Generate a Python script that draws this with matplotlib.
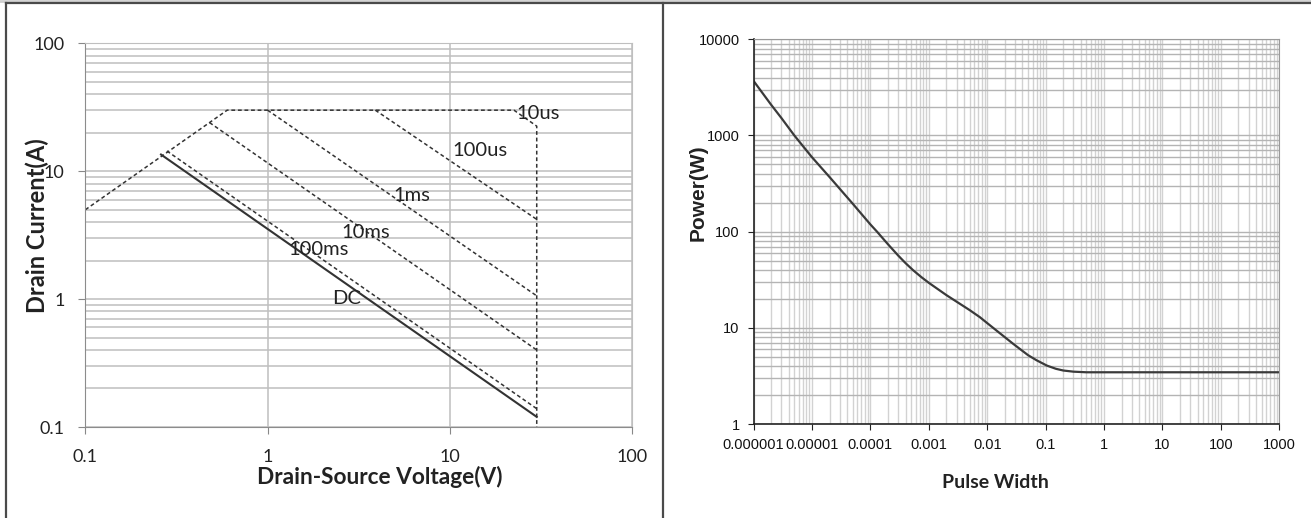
import matplotlib
matplotlib.use("Agg")
import matplotlib.pyplot as plt
from matplotlib.lines import Line2D
from matplotlib.ticker import FixedLocator, LogLocator, NullFormatter

# --- safe operating area (left) ---
soa_ticks = [0.1, 1, 10, 100]
soa_ticklabels = ["0.1", "1", "10", "100"]

# limit envelope, drawn as the 10us curve
limit_v = [0.1, 0.6, 22.5, 30, 30]
limit_i = [5.0, 30, 30, 22.5, 0.1]

us100_v = [3.9, 30]
us100_i = [30, 4.2]
ms1_v = [1.0, 30]
ms1_i = [30, 1.06]
ms10_v = [0.48, 30]
ms10_i = [24, 0.40]
ms100_v = [0.28, 30]
ms100_i = [14.4, 0.139]
dc_v = [0.26, 30]
dc_i = [13.5, 0.12]

curve_names = ["10us", "100us", "1ms", "10ms", "100ms", "DC"]
name_v = [30.4, 14.7, 6.2, 3.47, 1.9, 2.72]
name_i = [28.5, 14.4, 6.5, 3.33, 2.45, 1.02]

# --- peak power vs pulse width (right) ---
pulse_w = [1e-6, 2e-6, 3e-6, 5e-6, 1e-5, 2e-5, 5e-5, 1e-4, 1.3e-4, 2e-4,
           3e-4, 4e-4, 5.4e-4, 7.5e-4, 1e-3, 2e-3, 5e-3, 7.5e-3, 1e-2, 2e-2,
           2.8e-2, 5e-2, 7e-2, 0.105, 0.15, 0.2, 0.3, 0.5, 1, 10, 100, 1000]
power_w = [3700, 2090, 1520, 1000, 595, 370, 195, 119, 100, 74,
           56.4, 47.1, 39.7, 33.6, 29.4, 21.9, 15.3, 12.9, 11.2, 8.0,
           6.8, 5.2, 4.6, 4.05, 3.75, 3.6, 3.5, 3.45, 3.45, 3.45, 3.45, 3.45]
pw_ticks = [1e-6, 1e-5, 1e-4, 1e-3, 1e-2, 0.1, 1, 10, 100, 1000]
pw_ticklabels = ["0.000001", "0.00001", "0.0001", "0.001", "0.01",
                 "0.1", "1", "10", "100", "1000"]
p_ticks = [1, 10, 100, 1000, 10000]
p_ticklabels = ["1", "10", "100", "1000", "10000"]

W, H = 1311, 518
fig = plt.figure(figsize=(W / 100, H / 100), dpi=100)
fig.patch.set_facecolor("white")

ink = "#333333"
grid_c = "#bfbfbf"
sans = ["Lato", "DejaVu Sans"]

# ---------- left panel ----------
ax = fig.add_axes([85.4 / W, 1 - 427 / H, (632 - 85.4) / W, (427 - 43.3) / H])
ax.set_xscale("log")
ax.set_yscale("log")
ax.set_xlim(0.1, 100)
ax.set_ylim(0.1, 100)

dash = (0, (2.5, 1.8))
ax.plot(limit_v, limit_i, color=ink, lw=1.1, linestyle=dash)
for v, i in [(us100_v, us100_i), (ms1_v, ms1_i), (ms10_v, ms10_i), (ms100_v, ms100_i)]:
    ax.plot(v, i, color=ink, lw=1.1, linestyle=dash)
ax.plot(dc_v, dc_i, color=ink, lw=1.5)

for name, x, y in zip(curve_names, name_v, name_i):
    ax.text(x, y, name, ha="center", va="center", fontsize=14.5,
            family=sans, color="#222222")

ax.xaxis.set_major_locator(FixedLocator(soa_ticks))
ax.set_xticklabels(soa_ticklabels)
ax.yaxis.set_major_locator(FixedLocator(soa_ticks))
ax.set_yticklabels(soa_ticklabels)
ax.yaxis.set_minor_locator(LogLocator(base=10, subs=range(2, 10)))
ax.xaxis.set_minor_locator(LogLocator(base=10, subs=range(2, 10)))
ax.xaxis.set_minor_formatter(NullFormatter())
ax.yaxis.set_minor_formatter(NullFormatter())
ax.tick_params(which="minor", length=0)
ax.tick_params(which="major", direction="out", length=5, color="#888888",
               labelsize=13, labelcolor="#222222")
ax.tick_params(axis="y", pad=10)
ax.tick_params(axis="x", pad=11)
for lab in ax.get_xticklabels() + ax.get_yticklabels():
    lab.set_family(sans)
ax.grid(which="major", color=grid_c, lw=1.1)
ax.grid(which="minor", axis="y", color=grid_c, lw=1.1)
ax.set_axisbelow(True)
for s in ["left", "bottom"]:
    ax.spines[s].set_color("#8c8c8c")
for s in ["top", "right"]:
    ax.spines[s].set_color(grid_c)

ax.set_xlabel("Drain-Source Voltage(V)", fontsize=16.3, fontweight="bold",
              family=sans, color="#222222", va="center")
ax.xaxis.set_label_coords(0.539, -0.130)
ax.set_ylabel("Drain Current(A)", fontsize=17, fontweight="bold",
              family=sans, color="#222222", va="center")
ax.yaxis.set_label_coords(-0.088, 0.526)

# ---------- right panel ----------
bx = fig.add_axes([753.5 / W, 1 - 424 / H, (1279.3 - 753.5) / W, (424 - 39.3) / H])
bx.set_xscale("log")
bx.set_yscale("log")
bx.set_xlim(1e-6, 1000)
bx.set_ylim(1, 10000)
bx.plot(pulse_w, power_w, color="#3a3a3a", lw=1.6)

arial = ["Liberation Sans", "DejaVu Sans"]
bx.xaxis.set_major_locator(FixedLocator(pw_ticks))
bx.set_xticklabels(pw_ticklabels)
bx.yaxis.set_major_locator(FixedLocator(p_ticks))
bx.set_yticklabels(p_ticklabels)
bx.xaxis.set_minor_locator(LogLocator(base=10, subs=range(2, 10), numticks=20))
bx.yaxis.set_minor_locator(LogLocator(base=10, subs=range(2, 10), numticks=20))
bx.xaxis.set_minor_formatter(NullFormatter())
bx.yaxis.set_minor_formatter(NullFormatter())
bx.tick_params(which="minor", length=0)
bx.tick_params(which="major", direction="out", length=4, color="#222222",
               labelsize=10.5, labelcolor="#111111", pad=6)
for lab in bx.get_xticklabels() + bx.get_yticklabels():
    lab.set_family(arial)
bx.grid(which="both", axis="y", color="#b4b4b4", lw=1)
bx.grid(which="both", axis="x", color="#d2d2d2", lw=1)
bx.set_axisbelow(True)
for s in ["left", "bottom"]:
    bx.spines[s].set_color("#222222")
    bx.spines[s].set_linewidth(1.2)
for s in ["top", "right"]:
    bx.spines[s].set_color("#9a9a9a")

bx.set_xlabel("Pulse Width", fontsize=14, fontweight="bold",
              family=sans, color="#222222", va="center")
bx.xaxis.set_label_coords(0.461, -0.153)
bx.set_ylabel("Power(W)", fontsize=15, fontweight="bold",
              family=arial, color="#222222", va="center")
bx.yaxis.set_label_coords(-0.106, 0.60)

# ---------- table frame around the two panels ----------
def px_line(x0, y0, x1, y1, color, lw):
    fig.add_artist(Line2D([x0 / W, x1 / W], [1 - y0 / H, 1 - y1 / H],
                          transform=fig.transFigure, color=color, lw=lw))

px_line(0, 1, W, 1, "#cfcfcf", 2)
px_line(5.5, 3, W, 3, "#4a4a4a", 1.6)
px_line(5.5, 3, 5.5, H, "#4a4a4a", 1.6)
px_line(663.3, 3, 663.3, H, "#4a4a4a", 1.6)

fig.savefig("out.png", dpi=100, facecolor="white")
